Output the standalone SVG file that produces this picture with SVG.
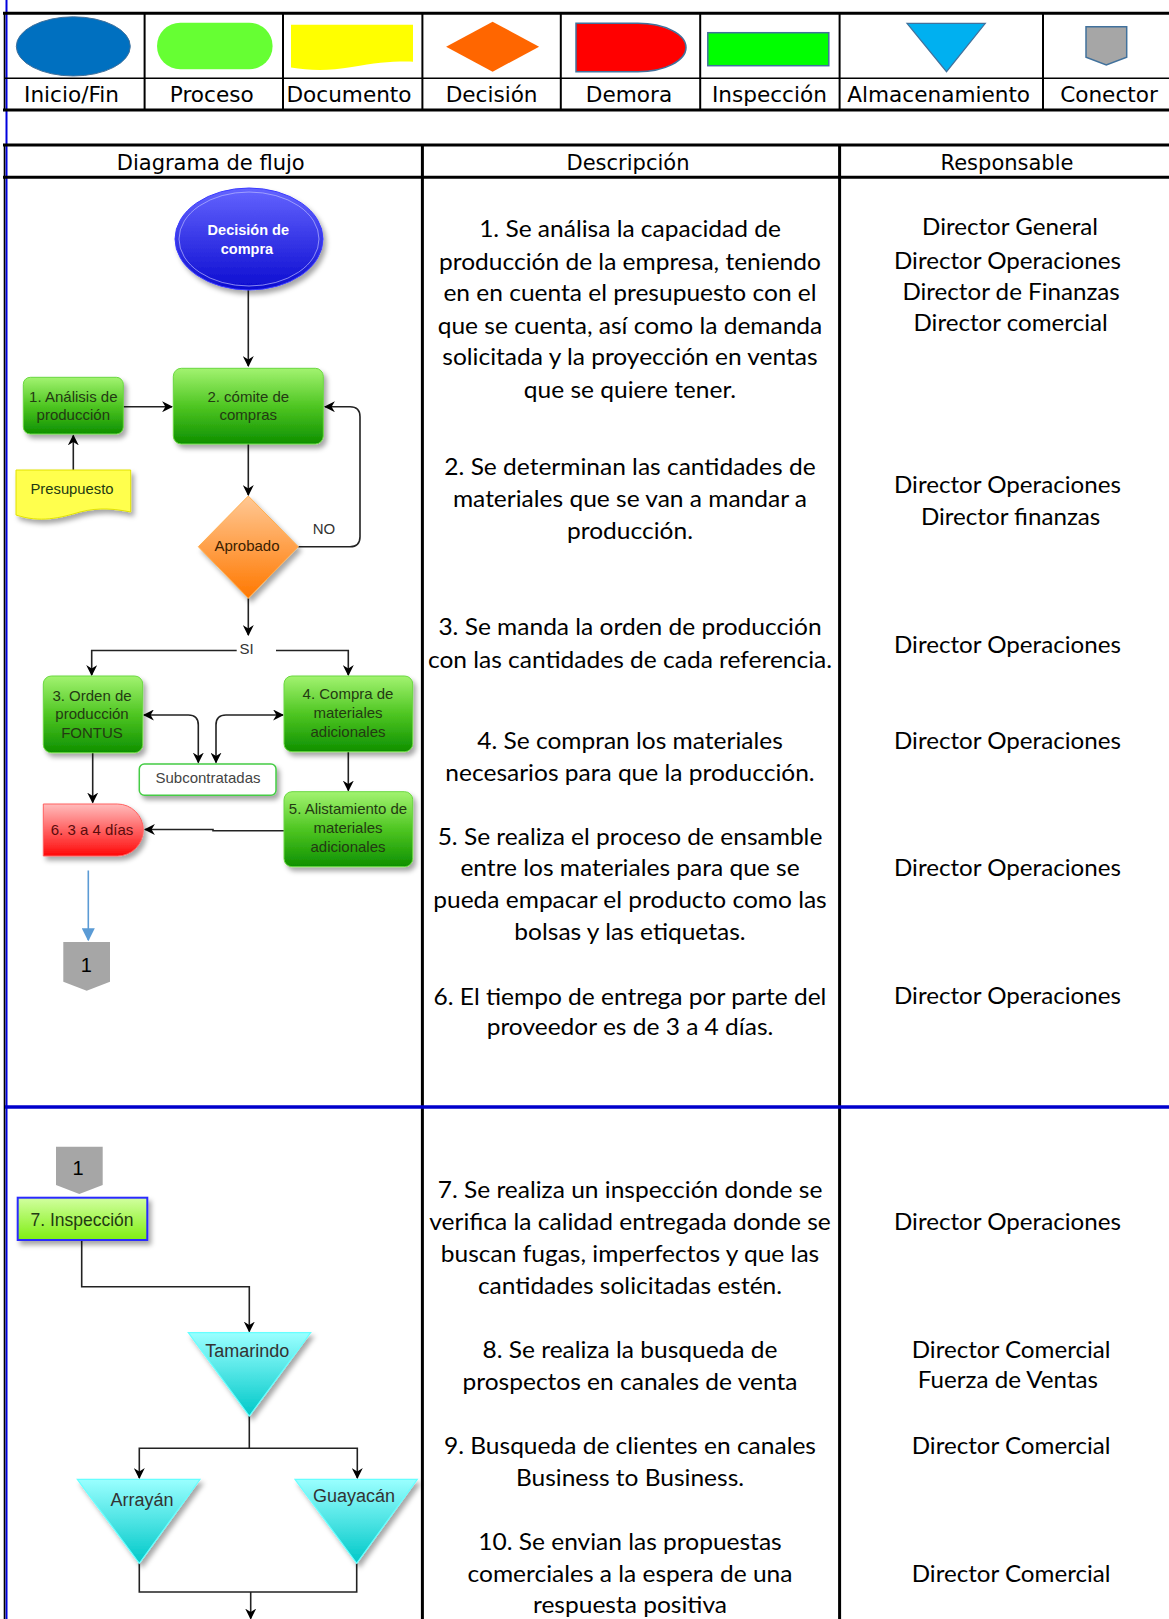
<svg xmlns="http://www.w3.org/2000/svg" width="1169" height="1619" viewBox="0 0 1169 1619">
<defs>
<style>
.lg{font-family:"DejaVu Sans",Verdana,sans-serif;font-size:21px;fill:#000;text-anchor:middle}
.lb{font-size:21.6px}
.ds{font-family:Lato,"Liberation Sans",sans-serif;font-size:23px;fill:#000;text-anchor:middle}
.fc{font-family:"Liberation Sans",Arial,sans-serif;font-size:15px;fill:#233a12;text-anchor:middle}
.fw{font-family:"Liberation Sans",Arial,sans-serif;font-size:14.5px;font-weight:bold;fill:#fff;text-anchor:middle}
.fg{font-family:"Liberation Sans",Arial,sans-serif;font-size:18px;fill:#333;text-anchor:middle}
.cn{font-family:"Liberation Sans",Arial,sans-serif;font-size:20px;fill:#000;text-anchor:middle}
.tk{stroke:#000;stroke-width:3;fill:none}
.tn{stroke:#000;stroke-width:1.6;fill:none}
.ln{stroke:#222;stroke-width:1.6;fill:none}
.sh{filter:url(#sh)}
</style>
<filter id="sh" x="-20%" y="-20%" width="150%" height="150%">
<feDropShadow dx="3" dy="4" stdDeviation="2.5" flood-color="#000" flood-opacity="0.35"/>
</filter>
<linearGradient id="gB" x1="0" y1="0" x2="0" y2="1"><stop offset="0" stop-color="#6464ff"/><stop offset="1" stop-color="#0c0cd0"/></linearGradient>
<linearGradient id="gG" x1="0" y1="0" x2="0" y2="1"><stop offset="0" stop-color="#a2f370"/><stop offset="0.5" stop-color="#4fc622"/><stop offset="1" stop-color="#0e9000"/></linearGradient>
<linearGradient id="gO" x1="0" y1="0" x2="0" y2="1"><stop offset="0" stop-color="#ffc894"/><stop offset="1" stop-color="#ff7800"/></linearGradient>
<linearGradient id="gR" x1="0" y1="0" x2="0" y2="1"><stop offset="0" stop-color="#ffbcbc"/><stop offset="1" stop-color="#ff0808"/></linearGradient>
<linearGradient id="gC" x1="0" y1="0" x2="0" y2="1"><stop offset="0" stop-color="#9affff"/><stop offset="1" stop-color="#00c8c8"/></linearGradient>
<linearGradient id="gI" x1="0" y1="0" x2="0" y2="1"><stop offset="0" stop-color="#d2ffa0"/><stop offset="1" stop-color="#7fee12"/></linearGradient>
<marker id="ar" viewBox="0 0 10 10" refX="9" refY="5" markerWidth="11" markerHeight="11" markerUnits="userSpaceOnUse" orient="auto-start-reverse"><path d="M0,0 L10,5 L0,10 L3,5 Z" fill="#000"/></marker>
<marker id="ab" viewBox="0 0 10 10" refX="9" refY="5" markerWidth="13" markerHeight="13" markerUnits="userSpaceOnUse" orient="auto"><path d="M0,0 L10,5 L0,10 Z" fill="#5b9bd5"/></marker>
</defs>
<rect width="1169" height="1619" fill="#fff"/>

<g id="table">
<line x1="6.5" y1="0" x2="6.5" y2="1619" stroke="#0000dd" stroke-width="2"/>
<line x1="4.5" y1="13" x2="4.5" y2="111" class="tn"/>
<line x1="4.5" y1="145" x2="4.5" y2="1619" class="tn"/>
<line x1="3" y1="13.3" x2="1169" y2="13.3" class="tk"/>
<line x1="5" y1="78.3" x2="1169" y2="78.3" class="tn"/>
<line x1="3" y1="110" x2="1169" y2="110" class="tk"/>
<g stroke="#000" stroke-width="2">
<line x1="144.6" y1="13" x2="144.6" y2="110"/>
<line x1="283" y1="13" x2="283" y2="110"/>
<line x1="422.4" y1="13" x2="422.4" y2="110"/>
<line x1="560.8" y1="13" x2="560.8" y2="110"/>
<line x1="700.2" y1="13" x2="700.2" y2="110"/>
<line x1="839.6" y1="13" x2="839.6" y2="110"/>
<line x1="1043" y1="13" x2="1043" y2="110"/>
</g>
<line x1="3" y1="145" x2="1169" y2="145" class="tk"/>
<line x1="3" y1="177.3" x2="1169" y2="177.3" class="tk"/>
<line x1="422.4" y1="145" x2="422.4" y2="1619" class="tk"/>
<line x1="839.6" y1="145" x2="839.6" y2="1619" class="tk"/>
<line x1="5" y1="1107" x2="1169" y2="1107" stroke="#0000cc" stroke-width="3.5"/>
</g>

<g id="legend">
<ellipse cx="73.3" cy="46.4" rx="57" ry="29.6" fill="#0070c0" stroke="#41719c" stroke-width="1"/>
<rect x="157" y="22.7" width="115.6" height="46.6" rx="23.3" fill="#66ff33"/>
<path d="M291,24.7 H413 V61.7 C392,61.2 376,63 352,67 C328,71 310,70.5 291,67.5 Z" fill="#ffff00"/>
<path d="M492.6,21.7 L539.1,46.7 L492.6,71.7 L446.1,46.7 Z" fill="#ff6600"/>
<path d="M576,23.3 H638 A48,24.2 0 0 1 638,71.7 H576 Z" fill="#ff0000" stroke="#41719c" stroke-width="1.5"/>
<rect x="707.8" y="32.7" width="121" height="33" fill="#00ff00" stroke="#41719c" stroke-width="1.5"/>
<path d="M907,23.3 H985.3 L946.5,71.7 Z" fill="#00b0f0" stroke="#41719c" stroke-width="1.2"/>
<path d="M1086,26.7 H1126.7 V57.3 L1106.3,65 L1086,57.3 Z" fill="#a6a6a6" stroke="#41719c" stroke-width="1.5"/>
<text class="lg lb" x="71.5" y="101.5">Inicio/Fin</text>
<text class="lg lb" x="211.7" y="101.5">Proceso</text>
<text class="lg lb" x="349" y="101.5">Documento</text>
<text class="lg lb" x="491.6" y="101.5">Decisión</text>
<text class="lg lb" x="629" y="101.5">Demora</text>
<text class="lg lb" x="769.4" y="101.5">Inspección</text>
<text class="lg lb" x="938.7" y="101.5">Almacenamiento</text>
<text class="lg lb" x="1109" y="101.5">Conector</text>
<text class="lg" x="210.7" y="169.5">Diagrama de flujo</text>
<text class="lg" x="628" y="169.5">Descripción</text>
<text class="lg" x="1007" y="169.5">Responsable</text>
</g>

<g id="descripcion" class="ds" transform="translate(630,0) scale(1.066,1) translate(-630,0)">
<text x="630" y="237.3">1. Se análisa la capacidad de</text>
<text x="630" y="269.7">producción de la empresa, teniendo</text>
<text x="630" y="301.3">en en cuenta el presupuesto con el</text>
<text x="630" y="333.7">que se cuenta, así como la demanda</text>
<text x="630" y="365.3">solicitada y la proyección en ventas</text>
<text x="630" y="398">que se quiere tener.</text>
<text x="630" y="475.3">2. Se determinan las cantidades de</text>
<text x="630" y="507.3">materiales que se van a mandar a</text>
<text x="630" y="538.7">producción.</text>
<text x="630" y="634.7">3. Se manda la orden de producción</text>
<text x="630" y="668">con las cantidades de cada referencia.</text>
<text x="630" y="749">4. Se compran los materiales</text>
<text x="630" y="780.7">necesarios para que la producción.</text>
<text x="630" y="844.7">5. Se realiza el proceso de ensamble</text>
<text x="630" y="876.3">entre los materiales para que se</text>
<text x="630" y="908">pueda empacar el producto como las</text>
<text x="630" y="939.7">bolsas y las etiquetas.</text>
<text x="630" y="1004.7">6. El tiempo de entrega por parte del</text>
<text x="630" y="1034.7">proveedor es de 3 a 4 días.</text>
<text x="630" y="1197.7">7. Se realiza un inspección donde se</text>
<text x="630" y="1229.7">verifica la calidad entregada donde se</text>
<text x="630" y="1261.7">buscan fugas, imperfectos y que las</text>
<text x="630" y="1293.7">cantidades solicitadas estén.</text>
<text x="630" y="1357.7">8.  Se realiza la busqueda de</text>
<text x="630" y="1389.8">prospectos en canales de venta</text>
<text x="630" y="1453.8">9. Busqueda de clientes en canales</text>
<text x="630" y="1485.8">Business to Business.</text>
<text x="630" y="1549.8">10. Se envian las propuestas</text>
<text x="630" y="1581.8">comerciales a la espera de una</text>
<text x="630" y="1612.8">respuesta positiva</text>
</g>

<g id="responsable" class="ds" transform="translate(1009,0) scale(1.05,1) translate(-1009,0)">
<text x="1010" y="234.7">Director General</text>
<text x="1007.5" y="269">Director Operaciones</text>
<text x="1011" y="299.7">Director de Finanzas</text>
<text x="1010.5" y="331.3">Director comercial</text>
<text x="1007.5" y="493">Director Operaciones</text>
<text x="1010.5" y="524.7">Director finanzas</text>
<text x="1007.5" y="653">Director Operaciones</text>
<text x="1007.5" y="749">Director Operaciones</text>
<text x="1007.5" y="875.7">Director Operaciones</text>
<text x="1007.5" y="1004">Director Operaciones</text>
<text x="1007.5" y="1229.7">Director Operaciones</text>
<text x="1011" y="1357.7">Director Comercial</text>
<text x="1008" y="1387.7">Fuerza de Ventas</text>
<text x="1011" y="1453.8">Director Comercial</text>
<text x="1011" y="1581.8">Director Comercial</text>
</g>

<g id="connectors">
<path class="ln" d="M248.3,290 V366" marker-end="url(#ar)"/>
<path class="ln" d="M123.3,406.7 H172" marker-end="url(#ar)"/>
<path class="ln" d="M73.3,470 V435.5" marker-end="url(#ar)"/>
<path class="ln" d="M248.3,444 V495" marker-end="url(#ar)"/>
<path class="ln" d="M298.3,546.7 H350 Q360,546.7 360,536.7 V416.7 Q360,406.7 350,406.7 H325" marker-end="url(#ar)"/>
<path class="ln" d="M248.3,598.3 V635" marker-end="url(#ar)"/>
<path class="ln" d="M236.7,650.5 H91.7 V675" marker-end="url(#ar)"/>
<path class="ln" d="M276,650.5 H348.3 V675" marker-end="url(#ar)"/>
<path class="ln" d="M144,715 H188.3 Q198.3,715 198.3,725 V762.5" marker-start="url(#ar)" marker-end="url(#ar)"/>
<path class="ln" d="M283,715 H226 Q216,715 216,725 V762.5" marker-start="url(#ar)" marker-end="url(#ar)"/>
<path class="ln" d="M348.3,752 V790.5" marker-end="url(#ar)"/>
<path class="ln" d="M92.7,752.7 V802.5" marker-end="url(#ar)"/>
<path class="ln" d="M284,830.7 H213 V829.5 H145" marker-end="url(#ar)"/>
<path d="M88.3,870.5 V940" stroke="#5b9bd5" stroke-width="1.6" fill="none" marker-end="url(#ab)"/>
<path class="ln" d="M81.7,1240 V1286.7 H249.3 V1331.5" marker-end="url(#ar)"/>
<path class="ln" d="M249.3,1416 V1448.3"/>
<path class="ln" d="M139.3,1478 V1448.3 H357.3 V1478" marker-start="url(#ar)" marker-end="url(#ar)"/>
<path class="ln" d="M139.3,1563.3 V1592 H356.7 V1563.3"/>
<path class="ln" d="M250.7,1592 V1618.5" marker-end="url(#ar)"/>
</g>

<g id="n-inicio" class="sh">
<ellipse cx="249" cy="239" rx="74" ry="51" fill="url(#gB)" stroke="#3a3aff" stroke-width="1"/>
<ellipse cx="249" cy="239" rx="70" ry="47" fill="none" stroke="#b8b8ff" stroke-opacity="0.7" stroke-width="1"/>
</g>
<g id="t-inicio"><text class="fw" x="248.3" y="235">Decisión de</text><text class="fw" x="247" y="253.5">compra</text></g>

<g id="n-analisis"><rect class="sh" x="23.3" y="377.3" width="100" height="56.7" rx="7" fill="url(#gG)" stroke="#6ad840" stroke-width="1"/>
<text class="fc" x="73.3" y="402">1. Análisis de</text><text class="fc" x="73.3" y="420.3">producción</text></g>

<g id="n-comite"><rect class="sh" x="173.3" y="368.3" width="150" height="75.7" rx="8" fill="url(#gG)" stroke="#6ad840" stroke-width="1"/>
<text class="fc" x="248.3" y="402">2. cómite de</text><text class="fc" x="248.3" y="420.3">compras</text></g>

<g id="n-presupuesto"><path class="sh" d="M16,470 H130.7 V512 C115,509 100,507 80,512 C60,518 40,523 16,515 Z" fill="#ffff4d" stroke="#e2e200" stroke-width="1"/>
<text class="fc" x="72" y="493.5" style="font-size:14.8px">Presupuesto</text></g>

<g id="n-aprobado"><path class="sh" d="M248.3,496 L298.3,546.7 L248.3,598.3 L198.3,546.7 Z" fill="url(#gO)" stroke="#ffad4d" stroke-width="1"/>
<text class="fc" x="247" y="551.3" style="fill:#3a2000">Aprobado</text></g>
<text class="fc" x="324" y="533.5" style="fill:#333">NO</text>
<text class="fc" x="246.7" y="653.7" style="fill:#333">SI</text>

<g id="n-orden"><rect class="sh" x="43.3" y="676" width="99.4" height="76.7" rx="8" fill="url(#gG)" stroke="#6ad840" stroke-width="1"/>
<text class="fc" x="92" y="701.3">3. Orden de</text><text class="fc" x="92" y="719.3">producción</text><text class="fc" x="92" y="737.6">FONTUS</text></g>

<g id="n-compra"><rect class="sh" x="284" y="676" width="128.7" height="75.7" rx="8" fill="url(#gG)" stroke="#6ad840" stroke-width="1"/>
<text class="fc" x="348" y="699.3">4. Compra de</text><text class="fc" x="348" y="718">materiales</text><text class="fc" x="348" y="737">adicionales</text></g>

<g id="n-sub"><rect class="sh" x="139.3" y="764" width="136.7" height="31.3" rx="5" fill="#fff" stroke="#44cc44" stroke-width="1.5"/>
<text class="fc" x="208" y="782.5" style="fill:#444">Subcontratadas</text></g>

<g id="n-alist"><rect class="sh" x="284" y="791.7" width="128.7" height="75" rx="8" fill="url(#gG)" stroke="#6ad840" stroke-width="1"/>
<text class="fc" x="348" y="813.6">5. Alistamiento de</text><text class="fc" x="348" y="832.6">materiales</text><text class="fc" x="348" y="852">adicionales</text></g>

<g id="n-demora"><path class="sh" d="M43.3,804 H117.3 A26,26 0 0 1 143.3,830 A26,26 0 0 1 117.3,856 H43.3 Z" fill="url(#gR)" stroke="#ff6060" stroke-width="1"/>
<text class="fc" x="92" y="834.6" style="fill:#5a0c0c">6. 3 a 4 días</text></g>

<g id="n-con1"><path d="M63.3,942 H110 V981.7 L86.7,990.7 L63.3,981.7 Z" fill="#a6a6a6"/>
<text class="cn" x="86.2" y="972">1</text></g>

<g id="n-con2"><path d="M56,1146.7 H102.7 V1185 L79.3,1194 L56,1185 Z" fill="#a6a6a6"/>
<text class="cn" x="78" y="1174.7">1</text></g>

<g id="n-insp"><rect class="sh" x="17.7" y="1197.7" width="129.6" height="42.3" fill="url(#gI)" stroke="#2a2aff" stroke-width="2"/>
<text class="fc" x="82" y="1225.5" style="font-size:17.5px">7. Inspección</text></g>

<g id="n-tamarindo"><path class="sh" d="M188.3,1332.7 H310.7 L249.3,1416 Z" fill="url(#gC)" stroke="#66ffff" stroke-width="1.2"/>
<text class="fg" x="247.3" y="1357">Tamarindo</text></g>

<g id="n-arrayan"><path class="sh" d="M77.3,1479.3 H200 L139.3,1563.3 Z" fill="url(#gC)" stroke="#66ffff" stroke-width="1.2"/>
<text class="fg" x="142" y="1505.6">Arrayán</text></g>

<g id="n-guayacan"><path class="sh" d="M295,1479.3 H417.3 L356.7,1563.3 Z" fill="url(#gC)" stroke="#66ffff" stroke-width="1.2"/>
<text class="fg" x="354" y="1502">Guayacán</text></g>
</svg>
